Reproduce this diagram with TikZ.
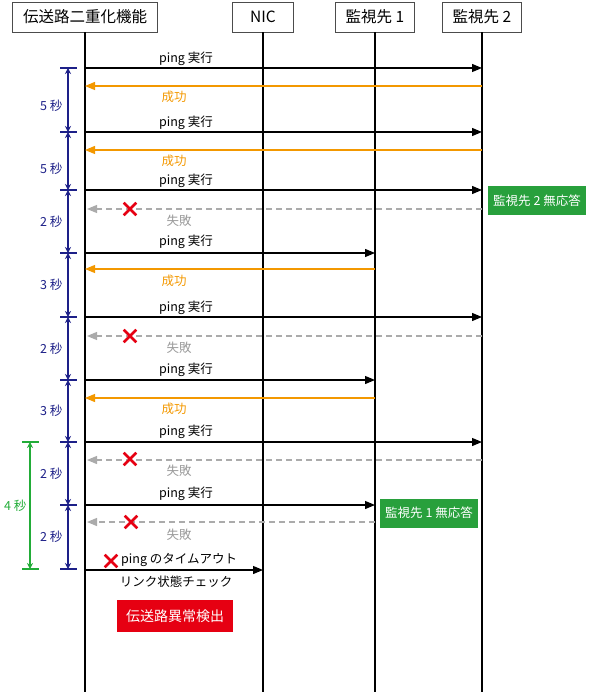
\documentclass[tikz,border=0pt]{standalone}
\usepackage{fontspec}
\setmainfont{Noto Sans CJK JP}
\usetikzlibrary{arrows.meta, positioning, calc, shapes.misc}
\definecolor{okorange}{RGB}{243,152,0}
\definecolor{dimblue}{RGB}{29,32,136}
\definecolor{dimgreen}{RGB}{34,172,56}
\definecolor{boxgreen}{RGB}{40,160,60}
\definecolor{alertred}{RGB}{230,0,18}
\newcommand{\hdfont}{\fontsize{15.5}{18}\selectfont}
\newcommand{\lbfont}{\fontsize{12.5}{14}\selectfont}
\tikzset{
  head/.style={draw=black!70, fill=white, minimum height=30pt, inner xsep=4pt, font=\hdfont},
  life/.style={line width=1.6pt},
  req/.style={-{Triangle[length=10pt, width=8pt]}, line width=1.2pt},
  okmsg/.style={-{Triangle[length=10pt, width=8pt]}, line width=1.2pt, draw=okorange},
  ngmsg/.style={-{Triangle[length=10pt, width=8pt]}, line width=1.2pt, draw=black!33,
    dash pattern=on 6pt off 4pt},
  lbl/.style={font=\lbfont, inner sep=1pt},
  cross/.style={cross out, draw=alertred, line width=2.6pt, minimum size=10pt, inner sep=0pt},
  tag/.style={fill=#1, text=white, font=\lbfont, minimum height=29pt, inner sep=3pt},
  dim/.style={{Stealth[length=6pt, width=6pt]}-{Stealth[length=6pt, width=6pt]}, line width=1.2pt},
}

\begin{document}
\begin{tikzpicture}[x=1pt, y=-1pt]
  \useasboundingbox (0,0) rectangle (589,692);
  % participants
  \node[head, minimum width=145pt] (sys) at (85,17) {伝送路二重化機能};
  \node[head, minimum width=61pt] (nic) at (263,17) {NIC};
  \node[head, minimum width=79pt] (mon1) at (375,17) {監視先 1};
  \node[head, minimum width=79pt] (mon2) at (482,17) {監視先 2};
  \draw[life] (sys.south) -- (sys |- 0,692);
  \draw[life] (nic.south) -- (nic |- 0,692);
  \draw[life] (mon1.south) -- (mon1 |- 0,692);
  \draw[life] (mon2.south) -- (mon2 |- 0,692);

  % round 1
  \node[lbl] (p1) at (186,59) {ping 実行};
  \draw[req] (sys |- 0,68) -- (mon2 |- 0,68);
  \draw[okmsg] (mon2 |- 0,86) -- (sys |- 0,86);
  \node[lbl, text=okorange] (s1) at (174,97) {成功};
  % round 2
  \node[lbl] (p2) at (186,123) {ping 実行};
  \draw[req] (sys |- 0,132) -- (mon2 |- 0,132);
  \draw[okmsg] (mon2 |- 0,150) -- (sys |- 0,150);
  \node[lbl, text=okorange] (s2) at (174,161) {成功};
  % round 3
  \node[lbl] (p3) at (186,181) {ping 実行};
  \draw[req] (sys |- 0,190) -- (mon2 |- 0,190);
  \draw[ngmsg] (mon2 |- 0,209) -- ($(sys |- 0,209)+(2,0)$);
  \node[cross] (x1) at (130,209) {};
  \node[lbl, text=black!40] (f1) at (179,221) {失敗};
  \node[tag=boxgreen, minimum width=98pt] (nr2) at (537,201) {監視先 2 無応答};
  % round 4
  \node[lbl] (p4) at (186,242) {ping 実行};
  \draw[req] (sys |- 0,253) -- (mon1 |- 0,253);
  \draw[okmsg] (mon1 |- 0,269) -- (sys |- 0,269);
  \node[lbl, text=okorange] (s3) at (174,281) {成功};
  % round 5
  \node[lbl] (p5) at (186,308) {ping 実行};
  \draw[req] (sys |- 0,317) -- (mon2 |- 0,317);
  \draw[ngmsg] (mon2 |- 0,336) -- ($(sys |- 0,336)+(2,0)$);
  \node[cross] (x2) at (130,336) {};
  \node[lbl, text=black!40] (f2) at (179,348) {失敗};
  % round 6
  \node[lbl] (p6) at (186,370) {ping 実行};
  \draw[req] (sys |- 0,380) -- (mon1 |- 0,380);
  \draw[okmsg] (mon1 |- 0,398) -- (sys |- 0,398);
  \node[lbl, text=okorange] (s4) at (174,409) {成功};
  % round 7
  \node[lbl] (p7) at (186,432) {ping 実行};
  \draw[req] (sys |- 0,442) -- (mon2 |- 0,442);
  \draw[ngmsg] (mon2 |- 0,460) -- ($(sys |- 0,460)+(2,0)$);
  \node[cross] (x3) at (130,459) {};
  \node[lbl, text=black!40] (f3) at (179,471) {失敗};
  % round 8
  \node[lbl] (p8) at (186,494) {ping 実行};
  \draw[req] (sys |- 0,505) -- (mon1 |- 0,505);
  \draw[ngmsg] (mon1 |- 0,522) -- ($(sys |- 0,522)+(2,0)$);
  \node[cross] (x4) at (131,522) {};
  \node[lbl, text=black!40] (f4) at (179,535) {失敗};
  \node[tag=boxgreen, minimum width=98pt] (nr1) at (429,513) {監視先 1 無応答};
  % link check
  \node[cross] (x5) at (111,561) {};
  \node[lbl, anchor=west] (to) at (120,560) {ping のタイムアウト};
  \draw[req] (sys |- 0,570) -- (nic |- 0,570);
  \node[lbl] (lc) at (176,582) {リンク状態チェック};
  \node[tag=alertred, font=\fontsize{14}{16}\selectfont, minimum width=116pt, minimum height=32pt]
    (det) at (175,616) {伝送路異常検出};

  % intervals
  \foreach \y [count=\i from 0] in {68,132,190,253,317,380,442,505,569}
    \coordinate (t\i) at (68,\y);
  \begin{scope}[dimblue]
    \foreach \i in {0,...,8}
      \draw[line width=1.2pt] ($(t\i)+(-8,0)$) -- ($(t\i)+(9,0)$);
    \draw[dim] (t0) -- (t1) node[midway, left=4pt, yshift=-6pt, lbl] {5 秒};
    \draw[dim] (t1) -- (t2) node[midway, left=4pt, yshift=-8pt, lbl] {5 秒};
    \draw[dim] (t2) -- (t3) node[midway, left=4pt, lbl] {2 秒};
    \draw[dim] (t3) -- (t4) node[midway, left=4pt, lbl] {3 秒};
    \draw[dim] (t4) -- (t5) node[midway, left=4pt, lbl] {2 秒};
    \draw[dim] (t5) -- (t6) node[midway, left=4pt, lbl] {3 秒};
    \draw[dim] (t6) -- (t7) node[midway, left=4pt, lbl] {2 秒};
    \draw[dim] (t7) -- (t8) node[midway, left=4pt, lbl] {2 秒};
  \end{scope}
  \coordinate (g0) at (30,442);
  \coordinate (g1) at (30,569);
  \begin{scope}[dimgreen]
    \draw[line width=1.2pt] ($(g0)+(-8,0)$) -- ($(g0)+(9,0)$);
    \draw[line width=1.2pt] ($(g1)+(-8,0)$) -- ($(g1)+(9,0)$);
    \draw[dim] (g0) -- (g1) node[midway, left=2pt, lbl] {4 秒};
  \end{scope}
\end{tikzpicture}
\end{document}
